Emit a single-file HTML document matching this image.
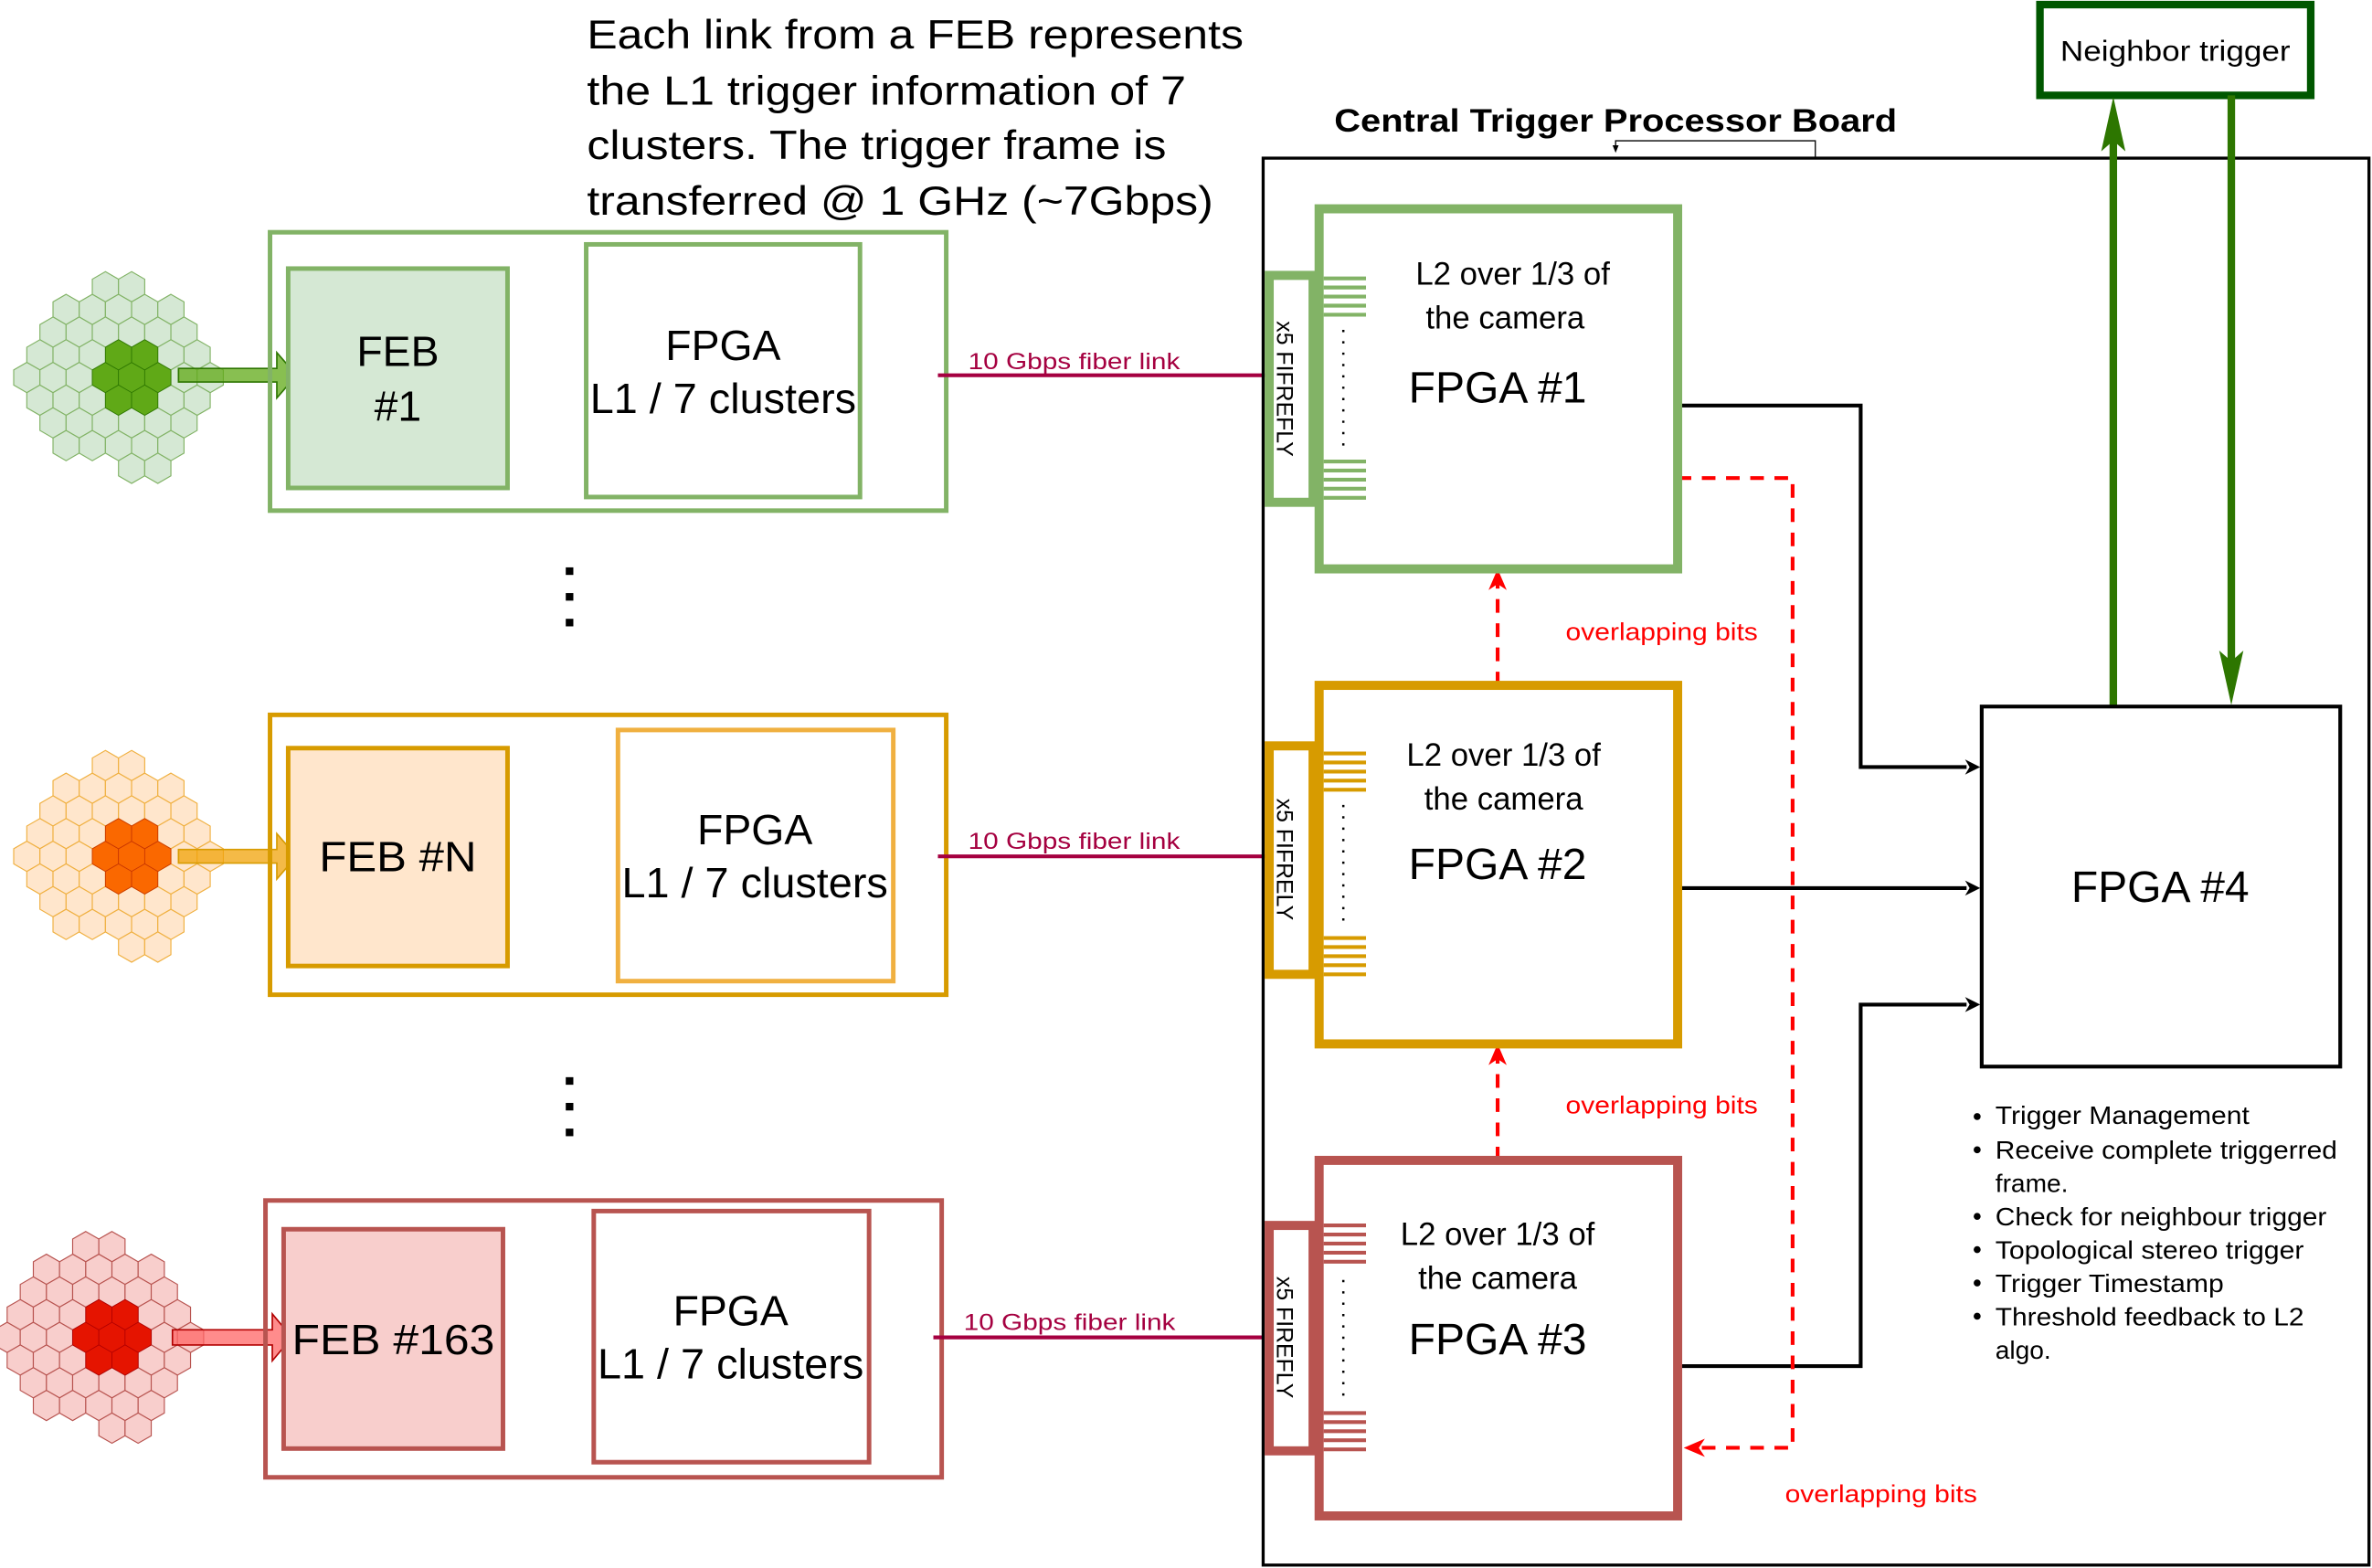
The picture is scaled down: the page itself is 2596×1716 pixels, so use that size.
<!DOCTYPE html>
<html><head><meta charset="utf-8"><style>
html,body{margin:0;padding:0;background:#fff}
svg{display:block}
text{font-family:"Liberation Sans",sans-serif}
</style></head><body>
<svg width="2596" height="1716" viewBox="0 0 1568 1036.4" xmlns="http://www.w3.org/2000/svg">
<defs>
<polygon id="h" points="0,-10 8.66,-5 8.66,5 0,10 -8.66,5 -8.66,-5"/>
<g id="light">
<use href="#h" x="-17.32" y="-60"/><use href="#h" x="0" y="-60"/>
<use href="#h" x="-43.3" y="-45"/><use href="#h" x="-25.98" y="-45"/><use href="#h" x="-8.66" y="-45"/><use href="#h" x="8.66" y="-45"/><use href="#h" x="25.98" y="-45"/>
<use href="#h" x="-51.96" y="-30"/><use href="#h" x="-34.64" y="-30"/><use href="#h" x="-17.32" y="-30"/><use href="#h" x="0" y="-30"/><use href="#h" x="17.32" y="-30"/><use href="#h" x="34.64" y="-30"/>
<use href="#h" x="-60.62" y="-15"/><use href="#h" x="-43.3" y="-15"/><use href="#h" x="-25.98" y="-15"/><use href="#h" x="25.98" y="-15"/><use href="#h" x="43.3" y="-15"/>
<use href="#h" x="-69.28" y="0"/><use href="#h" x="-51.96" y="0"/><use href="#h" x="-34.64" y="0"/><use href="#h" x="34.64" y="0"/><use href="#h" x="51.96" y="0"/>
<use href="#h" x="-60.62" y="15"/><use href="#h" x="-43.3" y="15"/><use href="#h" x="-25.98" y="15"/><use href="#h" x="25.98" y="15"/><use href="#h" x="43.3" y="15"/>
<use href="#h" x="-51.96" y="30"/><use href="#h" x="-34.64" y="30"/><use href="#h" x="-17.32" y="30"/><use href="#h" x="0" y="30"/><use href="#h" x="17.32" y="30"/><use href="#h" x="34.64" y="30"/>
<use href="#h" x="-43.3" y="45"/><use href="#h" x="-25.98" y="45"/><use href="#h" x="-8.66" y="45"/><use href="#h" x="8.66" y="45"/><use href="#h" x="25.98" y="45"/>
<use href="#h" x="0" y="60"/><use href="#h" x="17.32" y="60"/>
</g>
<g id="dark">
<use href="#h" x="-17.32" y="0"/><use href="#h" x="0" y="0"/><use href="#h" x="17.32" y="0"/>
<use href="#h" x="-8.66" y="-15"/><use href="#h" x="8.66" y="-15"/><use href="#h" x="-8.66" y="15"/><use href="#h" x="8.66" y="15"/>
</g>
</defs>

<!-- top text -->
<g font-size="27" fill="#000" lengthAdjust="spacingAndGlyphs">
<text x="388" y="32" textLength="434" lengthAdjust="spacingAndGlyphs">Each link from a FEB represents</text>
<text x="388" y="69" textLength="396" lengthAdjust="spacingAndGlyphs">the L1 trigger information of 7</text>
<text x="388" y="105" textLength="383" lengthAdjust="spacingAndGlyphs">clusters. The trigger frame is</text>
<text x="388" y="142" textLength="414" lengthAdjust="spacingAndGlyphs">transferred @ 1 GHz (~7Gbps)</text>
</g>

<!-- clusters -->
<g transform="translate(87,249.5)" fill="#d5e8d4" stroke="#82b366" stroke-width="0.7"><use href="#light"/></g>
<g transform="translate(87,249.5)" fill="#60a917" stroke="#2d7600" stroke-width="0.5"><use href="#dark"/></g>
<g transform="translate(87,566)" fill="#ffe6cc" stroke="#f0b040" stroke-width="0.7"><use href="#light"/></g>
<g transform="translate(87,566)" fill="#fa6800" stroke="#c73500" stroke-width="0.5"><use href="#dark"/></g>
<g transform="translate(74,884)" fill="#f8cecc" stroke="#b85450" stroke-width="0.7"><use href="#light"/></g>
<g transform="translate(74,884)" fill="#e51400" stroke="#b20000" stroke-width="0.5"><use href="#dark"/></g>

<!-- fat arrows -->
<path d="M118,243.5 H183 V233 L196,248 L183,263 V252.5 H118Z" fill="#60a917" fill-opacity="0.75" stroke="#2d7600" stroke-width="1"/>
<path d="M118,561.5 H183 V551 L196,566 L183,581 V570.5 H118Z" fill="#f0a30a" fill-opacity="0.75" stroke="#d79b00" stroke-width="1"/>
<path d="M114,879 H180 V868.5 L193,884 L180,899.5 V889 H114Z" fill="#ff6666" fill-opacity="0.75" stroke="#b20000" stroke-width="1"/>

<!-- FEB rows -->
<g fill="none" stroke-width="3">
<rect x="178.5" y="153.5" width="447" height="184" stroke="#82b366"/>
<rect x="190.5" y="177.5" width="145" height="145" stroke="#82b366" fill="#d5e8d4"/>
<rect x="387.5" y="161.5" width="181" height="167" stroke="#82b366"/>
<rect x="178.5" y="472.5" width="447" height="185" stroke="#d79b00"/>
<rect x="190.5" y="494.5" width="145" height="144" stroke="#d79b00" fill="#ffe6cc"/>
<rect x="408.5" y="482.5" width="182" height="166" stroke="#f0b040"/>
<rect x="175.5" y="793.5" width="447" height="183" stroke="#b85450"/>
<rect x="187.5" y="812.5" width="145" height="145" stroke="#b85450" fill="#f8cecc"/>
<rect x="392.5" y="800.5" width="182" height="166" stroke="#b85450"/>
</g>
<g font-size="28" text-anchor="middle" fill="#000">
<text x="263" y="242">FEB</text><text x="263" y="278">#1</text>
<text x="478" y="238">FPGA</text><text x="478" y="273" textLength="176" lengthAdjust="spacingAndGlyphs">L1 / 7 clusters</text>
<text x="263" y="576" textLength="104" lengthAdjust="spacingAndGlyphs">FEB #N</text>
<text x="499" y="558">FPGA</text><text x="499" y="593" textLength="176" lengthAdjust="spacingAndGlyphs">L1 / 7 clusters</text>
<text x="260" y="895" textLength="134" lengthAdjust="spacingAndGlyphs">FEB #163</text>
<text x="483" y="876">FPGA</text><text x="483" y="911" textLength="176" lengthAdjust="spacingAndGlyphs">L1 / 7 clusters</text>
</g>

<!-- dots -->
<g fill="#000"><rect x="374" y="375" width="5" height="5"/><rect x="374" y="392" width="5" height="5"/><rect x="374" y="409" width="5" height="5"/>
<rect x="374" y="712" width="5" height="5"/><rect x="374" y="729" width="5" height="5"/><rect x="374" y="746" width="5" height="5"/></g>

<!-- fiber links -->
<g stroke="#a50040" stroke-width="2.5"><line x1="620" y1="248" x2="838" y2="248"/><line x1="620" y1="566" x2="838" y2="566"/><line x1="617" y1="884" x2="835" y2="884"/></g>
<g font-size="15" fill="#a50040"><text x="640" y="244" textLength="140" lengthAdjust="spacingAndGlyphs">10 Gbps fiber link</text><text x="640" y="561" textLength="140" lengthAdjust="spacingAndGlyphs">10 Gbps fiber link</text><text x="637" y="879" textLength="140" lengthAdjust="spacingAndGlyphs">10 Gbps fiber link</text></g>

<!-- central board -->
<rect x="835" y="104.5" width="731" height="930" fill="none" stroke="#000" stroke-width="2"/>
<text x="882" y="87" font-size="21" font-weight="bold" textLength="372" lengthAdjust="spacingAndGlyphs">Central Trigger Processor Board</text>
<path d="M1200,104 V93 H1068 V99" fill="none" stroke="#000" stroke-width="0.8"/>
<path d="M1066,96 L1070,96 L1068,101Z" fill="#000"/>

<!-- neighbor trigger -->
<rect x="1348.5" y="3" width="179" height="60" fill="#fff" stroke="#005700" stroke-width="5"/>
<text x="1362" y="40" font-size="19" textLength="152" lengthAdjust="spacingAndGlyphs">Neighbor trigger</text>
<line x1="1397" y1="466" x2="1397" y2="90" stroke="#2d7600" stroke-width="5"/>
<path d="M1397,64 L1405,100 L1397,93 L1389,100Z" fill="#2d7600"/>
<line x1="1475" y1="63" x2="1475" y2="440" stroke="#2d7600" stroke-width="5"/>
<path d="M1475,466 L1467,430 L1475,437 L1483,430Z" fill="#2d7600"/>

<!-- connectors black -->
<g fill="none" stroke="#000" stroke-width="2.5">
<path d="M1109,268 H1230 V507 H1300"/>
<path d="M1109,587 H1300"/>
<path d="M1109,903 H1230 V664 H1300"/>
</g>
<g fill="#000"><path d="M1309,507 l-10,-5 l3,5 l-3,5z"/><path d="M1309,587 l-10,-5 l3,5 l-3,5z"/><path d="M1309,664 l-10,-5 l3,5 l-3,5z"/></g>

<!-- red dashed -->
<g fill="none" stroke="#f00" stroke-width="2.5" stroke-dasharray="9,7">
<path d="M990,453 V386"/>
<path d="M990,767 V700"/>
<path d="M1109,316 H1185 V957 H1124"/>
</g>
<g fill="#f00"><path d="M990,376 l-6,14 l6,-4 l6,4z"/><path d="M990,690 l-6,14 l6,-4 l6,4z"/><path d="M1113,957 l14,-6 l-4,6 l4,6z"/></g>
<g font-size="16" fill="#f00"><text x="1035" y="423" textLength="127" lengthAdjust="spacingAndGlyphs">overlapping bits</text><text x="1035" y="736" textLength="127" lengthAdjust="spacingAndGlyphs">overlapping bits</text><text x="1180" y="993" textLength="127" lengthAdjust="spacingAndGlyphs">overlapping bits</text></g>

<!-- FPGA 1-3 -->
<g fill="#fff" stroke-width="6">
<rect x="872" y="138" width="237" height="238" stroke="#82b366"/>
<rect x="839" y="182" width="29" height="150" stroke="#82b366"/>
<rect x="872" y="453" width="237" height="237" stroke="#d79b00"/>
<rect x="839" y="493" width="29" height="151" stroke="#d79b00"/>
<rect x="872" y="767" width="237" height="235" stroke="#b85450"/>
<rect x="839" y="810" width="29" height="149" stroke="#b85450"/>
</g>
<g stroke-width="2.5">
<g stroke="#82b366"><line x1="875" y1="184" x2="903" y2="184"/><line x1="875" y1="190" x2="903" y2="190"/><line x1="875" y1="196" x2="903" y2="196"/><line x1="875" y1="202" x2="903" y2="202"/><line x1="875" y1="208" x2="903" y2="208"/>
<line x1="875" y1="305" x2="903" y2="305"/><line x1="875" y1="311" x2="903" y2="311"/><line x1="875" y1="317" x2="903" y2="317"/><line x1="875" y1="323" x2="903" y2="323"/><line x1="875" y1="329" x2="903" y2="329"/></g>
<g stroke="#d79b00"><line x1="875" y1="498" x2="903" y2="498"/><line x1="875" y1="504" x2="903" y2="504"/><line x1="875" y1="510" x2="903" y2="510"/><line x1="875" y1="516" x2="903" y2="516"/><line x1="875" y1="522" x2="903" y2="522"/>
<line x1="875" y1="620" x2="903" y2="620"/><line x1="875" y1="626" x2="903" y2="626"/><line x1="875" y1="632" x2="903" y2="632"/><line x1="875" y1="638" x2="903" y2="638"/><line x1="875" y1="644" x2="903" y2="644"/></g>
<g stroke="#b85450"><line x1="875" y1="810" x2="903" y2="810"/><line x1="875" y1="816" x2="903" y2="816"/><line x1="875" y1="822" x2="903" y2="822"/><line x1="875" y1="828" x2="903" y2="828"/><line x1="875" y1="834" x2="903" y2="834"/>
<line x1="875" y1="934" x2="903" y2="934"/><line x1="875" y1="940" x2="903" y2="940"/><line x1="875" y1="946" x2="903" y2="946"/><line x1="875" y1="952" x2="903" y2="952"/><line x1="875" y1="958" x2="903" y2="958"/></g>
</g>
<g stroke="#000" stroke-width="1.5" stroke-dasharray="1.5,6">
<line x1="888" y1="218" x2="888" y2="295"/><line x1="888" y1="532" x2="888" y2="612"/><line x1="888" y1="846" x2="888" y2="926"/>
</g>
<g font-size="15" fill="#000">
<text transform="translate(844,257) rotate(90)" text-anchor="middle">x5 FIFREFLY</text>
<text transform="translate(844,568) rotate(90)" text-anchor="middle">x5 FIFRELY</text>
<text transform="translate(844,884) rotate(90)" text-anchor="middle">x5 FIREFLY</text>
</g>
<g font-size="21" text-anchor="middle" fill="#000">
<text x="1000" y="188">L2 over 1/3 of</text><text x="995" y="217">the camera</text>
<text x="994" y="506">L2 over 1/3 of</text><text x="994" y="535">the camera</text>
<text x="990" y="823">L2 over 1/3 of</text><text x="990" y="852">the camera</text>
</g>
<g font-size="29" text-anchor="middle" fill="#000">
<text x="990" y="266">FPGA #1</text><text x="990" y="581">FPGA #2</text><text x="990" y="895">FPGA #3</text>
</g>

<!-- FPGA4 -->
<rect x="1310" y="467" width="237" height="238" fill="#fff" stroke="#000" stroke-width="2.5"/>
<text x="1428" y="596" font-size="29" text-anchor="middle">FPGA #4</text>

<!-- bullets -->
<g font-size="17" fill="#000">
<circle cx="1307" cy="738" r="2.3"/><text x="1319" y="743" textLength="168" lengthAdjust="spacingAndGlyphs">Trigger Management</text>
<circle cx="1307" cy="760" r="2.3"/><text x="1319" y="766" textLength="226" lengthAdjust="spacingAndGlyphs">Receive complete triggerred</text>
<text x="1319" y="788">frame.</text>
<circle cx="1307" cy="804" r="2.3"/><text x="1319" y="810" textLength="219" lengthAdjust="spacingAndGlyphs">Check for neighbour trigger</text>
<circle cx="1307" cy="826" r="2.3"/><text x="1319" y="832" textLength="204" lengthAdjust="spacingAndGlyphs">Topological stereo trigger</text>
<circle cx="1307" cy="848" r="2.3"/><text x="1319" y="854" textLength="151" lengthAdjust="spacingAndGlyphs">Trigger Timestamp</text>
<circle cx="1307" cy="870" r="2.3"/><text x="1319" y="876" textLength="204" lengthAdjust="spacingAndGlyphs">Threshold feedback to L2</text>
<text x="1319" y="898">algo.</text>
</g>
</svg>
</body></html>
